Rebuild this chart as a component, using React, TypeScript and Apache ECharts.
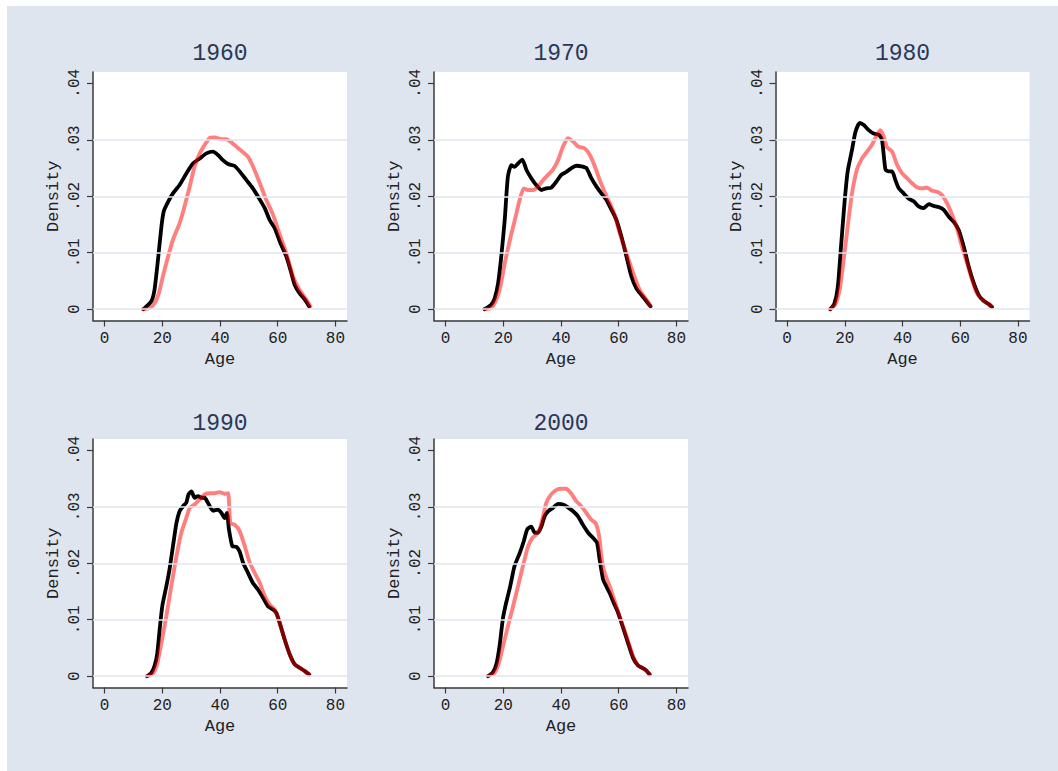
import React, { useEffect, useRef } from "react";
import * as echarts from "echarts";

const YEARS = ["1960", "1970", "1980", "1990", "2000"];
const AGE_TICKS = [0, 20, 40, 60, 80];
const DENSITY_TICKS = [0, 0.01, 0.02, 0.03, 0.04];
const GRID_VALUES = [0, 0.01, 0.02, 0.03];

// [age, density] pairs
const black1960 = [
  [13.5, 0], [16.2, 0.0014], [17.3, 0.0034], [18.5, 0.0087], [19.7, 0.0146], [20.5, 0.0173],
  [22, 0.019], [23.7, 0.0205], [26, 0.022], [28.3, 0.024], [30.6, 0.0258], [33, 0.0267],
  [35.3, 0.0276], [37.6, 0.0279], [39.3, 0.0273], [41, 0.0264], [42.8, 0.0257], [45, 0.0254],
  [46.8, 0.0244], [49.1, 0.0229], [51.4, 0.0214], [53.8, 0.0194], [55.5, 0.0179], [57.2, 0.0158],
  [59, 0.0143], [60.7, 0.012], [63, 0.0093], [64.7, 0.0064], [65.9, 0.0043], [67.6, 0.0028],
  [69.4, 0.0017], [70.9, 0.0005],
];
const red1960 = [
  [13.3, 0], [15.6, 0.0002], [17.3, 0.001], [18.8, 0.0028], [20.2, 0.0058], [22, 0.0093],
  [23.7, 0.0123], [26, 0.0152], [27.7, 0.0182], [29.5, 0.0217], [31.2, 0.0253], [33, 0.0276],
  [34.7, 0.0291], [36.4, 0.0303], [38.2, 0.0304], [40.5, 0.0301], [42.2, 0.0301], [44.5, 0.0293],
  [46.8, 0.0283], [49.7, 0.027], [51.4, 0.0253], [53.8, 0.0223], [56, 0.0194], [58.4, 0.0167],
  [60.7, 0.0132], [63, 0.0099], [65.3, 0.0058], [67.6, 0.0034], [69.9, 0.0017], [71.3, 0.0005],
];
const black1970 = [
  [13.5, 0], [15.8, 0.0008], [17, 0.0019], [18.2, 0.0046], [19.3, 0.0093], [20.5, 0.0158],
  [21.6, 0.0235], [22.8, 0.0255], [23.9, 0.0252], [25.1, 0.0258], [26.6, 0.0265], [28, 0.0247],
  [29.7, 0.0232], [31.4, 0.022], [33.2, 0.0211], [34.9, 0.0214], [36.6, 0.0215], [38.4, 0.0226],
  [40.1, 0.0238], [41.8, 0.0243], [43.6, 0.025], [45.3, 0.0254], [47.1, 0.0253], [48.8, 0.025],
  [50.5, 0.0232], [52.3, 0.0217], [54, 0.0205], [55.7, 0.0194], [57.5, 0.0176], [59.2, 0.0158],
  [60.9, 0.0129], [62.7, 0.0093], [64.4, 0.0058], [66.1, 0.0037], [67.9, 0.0025], [69.6, 0.0014],
  [71, 0.0005],
];
const red1970 = [
  [13.5, 0], [15.8, 0.0002], [17.6, 0.0017], [19, 0.004], [20.5, 0.0081], [22.3, 0.0123],
  [24, 0.0158], [25.7, 0.0194], [27.1, 0.0214], [28.6, 0.0211], [30.3, 0.0211], [32, 0.0217],
  [33.7, 0.0228], [35.5, 0.0238], [37.2, 0.0247], [39, 0.0264], [40.7, 0.0288], [42.4, 0.0303],
  [44.2, 0.0297], [45.9, 0.0288], [48.2, 0.0285], [50, 0.0273], [51.7, 0.0253], [53.4, 0.0229],
  [55.1, 0.0208], [56.9, 0.0188], [58.6, 0.0167], [60.3, 0.0135], [62.7, 0.0099], [65, 0.0064],
  [67.3, 0.0034], [69.6, 0.0017], [71, 0.0006],
];
const black1980 = [
  [15, 0], [16.4, 0.001], [17.6, 0.004], [18.7, 0.0111], [19.9, 0.0188], [21, 0.0244],
  [22.5, 0.0282], [23.7, 0.0314], [25.2, 0.033], [26.6, 0.0326], [28.3, 0.0317], [30, 0.0311],
  [31.8, 0.0309], [32.9, 0.03], [34.1, 0.0247], [35.2, 0.0244], [36.4, 0.0244], [37.5, 0.0229],
  [38.7, 0.0214], [40.4, 0.0205], [42.1, 0.0196], [43.9, 0.0191], [45.6, 0.0182], [47.3, 0.0179],
  [49.1, 0.0186], [50.8, 0.0183], [52.5, 0.0181], [54.3, 0.0176], [56, 0.0164], [57.7, 0.0155],
  [59.5, 0.014], [61.2, 0.0111], [62.9, 0.0076], [64.7, 0.0046], [66.4, 0.0025], [68.1, 0.0015],
  [69.9, 0.0009], [71, 0.0004],
];
const red1980 = [
  [14.8, 0], [16.7, 0.0008], [18.2, 0.0034], [19.6, 0.0087], [21, 0.0146], [22.5, 0.0205],
  [24.2, 0.0247], [26, 0.0267], [27.7, 0.0279], [29.4, 0.0291], [31.2, 0.0309], [32.3, 0.0317],
  [33.5, 0.0306], [34.6, 0.0287], [36.4, 0.0279], [38.1, 0.0256], [39.8, 0.0241], [41.6, 0.0232],
  [43.3, 0.0223], [45, 0.0216], [46.8, 0.0214], [48.5, 0.0215], [50.2, 0.021], [52, 0.0208],
  [53.7, 0.0202], [55.4, 0.0188], [57.2, 0.0167], [58.9, 0.0143], [60.6, 0.0111], [62.4, 0.0081],
  [64.1, 0.0052], [65.8, 0.0028], [68.1, 0.0015], [69.9, 0.0009], [71, 0.0004],
];
const black1990 = [
  [14.7, 0], [16.2, 0.0006], [17.3, 0.0018], [18.2, 0.0038], [19.1, 0.0083], [20, 0.0124],
  [21.4, 0.0159], [22.5, 0.0189], [23.7, 0.023], [24.9, 0.0271], [26, 0.0292], [27.2, 0.0301],
  [28.3, 0.0307], [29.1, 0.0322], [30.1, 0.0327], [31.2, 0.0316], [32.4, 0.0319], [33.5, 0.0316],
  [34.7, 0.0316], [35.8, 0.0307], [37.6, 0.0293], [39.3, 0.0295], [40.5, 0.0289], [41.6, 0.028],
  [42.4, 0.0289], [43.1, 0.026], [44.3, 0.023], [45.7, 0.0229], [46.8, 0.0221], [48, 0.0201],
  [49.7, 0.0183], [51.4, 0.0165], [53.2, 0.0153], [54.9, 0.0139], [56.6, 0.0124], [58.4, 0.0118],
  [59.5, 0.0112], [60.7, 0.0094], [62.4, 0.0065], [64.2, 0.0038], [65.9, 0.0021], [67.6, 0.0015],
  [69.4, 0.0009], [70.9, 0.0003],
];
const red1990 = [
  [14.7, 0], [16.8, 0.0005], [18.2, 0.0021], [19.7, 0.0059], [21.4, 0.0106], [23.1, 0.0159],
  [24.9, 0.0212], [26.6, 0.0254], [28.3, 0.028], [29.5, 0.0298], [31.2, 0.0304], [32.9, 0.0313],
  [34.7, 0.0322], [36.4, 0.0324], [38.2, 0.0324], [39.9, 0.0326], [41.6, 0.0323], [42.8, 0.0324],
  [43.6, 0.0271], [45.1, 0.0268], [46.8, 0.0257], [48.6, 0.023], [50.3, 0.0201], [52, 0.0183],
  [53.8, 0.0165], [55.5, 0.0142], [57.2, 0.0127], [59, 0.0118], [60.7, 0.0094], [62.4, 0.0065],
  [64.2, 0.0038], [65.9, 0.0021], [67.6, 0.0015], [69.4, 0.0009], [70.9, 0.0003],
];
const black2000 = [
  [14.7, 0], [16.4, 0.0007], [17.6, 0.0021], [18.7, 0.0053], [19.9, 0.0103], [21, 0.013],
  [22.4, 0.0159], [23.9, 0.0195], [25.7, 0.0218], [27.1, 0.0239], [28.3, 0.026], [29.7, 0.0265],
  [30.9, 0.0254], [32, 0.0254], [33.2, 0.0265], [34.3, 0.0283], [35.5, 0.0292], [37.2, 0.0298],
  [39, 0.0305], [40.7, 0.0304], [42.4, 0.0299], [44.2, 0.0292], [45.9, 0.0283], [47.6, 0.0268],
  [49.4, 0.0254], [51.1, 0.0245], [52.5, 0.0236], [53.4, 0.0206], [54.6, 0.0171], [55.7, 0.0159],
  [56.9, 0.0147], [58, 0.0133], [59.8, 0.0112], [61.5, 0.0086], [63.2, 0.0059], [65, 0.0032],
  [66.7, 0.0019], [68.4, 0.0014], [69.6, 0.001], [70.7, 0.0003],
];
const red2000 = [
  [14.7, 0], [17, 0.0006], [18.5, 0.0024], [19.9, 0.0053], [21.6, 0.0088], [23.4, 0.0124],
  [25.1, 0.0159], [26.8, 0.0195], [28.6, 0.023], [30.1, 0.0245], [31.4, 0.0251], [32.6, 0.026],
  [33.8, 0.0283], [34.9, 0.0307], [36.6, 0.0322], [38.4, 0.033], [40.1, 0.0332], [41.8, 0.0332],
  [43.6, 0.0323], [45.3, 0.031], [47, 0.0301], [48.8, 0.0289], [50.5, 0.0277], [52, 0.0271],
  [53.2, 0.0248], [54, 0.0212], [55.1, 0.0183], [56.9, 0.0159], [58.6, 0.0133], [60.3, 0.0106],
  [62.7, 0.0071], [65, 0.0035], [66.7, 0.0019], [68.4, 0.0014], [69.6, 0.001], [70.7, 0.0003],
];

const BLACK_SERIES = [black1960, black1970, black1980, black1990, black2000];
const RED_SERIES = [red1960, red1970, red1980, red1990, red2000];

const BG = "#dfe5ef";
const GRIDLINE = "#dfe5ef";
const AXIS = "#3a3a3a";
const FONT = "'Liberation Mono', 'DejaVu Sans Mono', monospace";

const PANEL_LEFT = [93, 434, 775.5, 93, 434];
const PANEL_TOP = [72, 72, 72, 439, 439];
const TITLE_TOP = [42, 42, 42, 412, 412];
const PANEL_W = 254;
const PANEL_H = 248.5;

function fmtDensity(v: number) {
  if (Math.abs(v) < 1e-9) return "0";
  return String(Math.round(v * 100) / 100).replace(/^0/, "");
}

export default function App() {
  const ref = useRef<HTMLDivElement>(null);
  useEffect(() => {
    if (!ref.current) return;
    const chart = echarts.init(ref.current, undefined, { renderer: "svg" });
    const grids: any[] = [];
    const xAxes: any[] = [];
    const yAxes: any[] = [];
    const series: any[] = [];
    const titles: any[] = [];
    YEARS.forEach((yr, i) => {
      grids.push({
        left: PANEL_LEFT[i],
        top: PANEL_TOP[i],
        width: PANEL_W,
        height: PANEL_H,
        show: true,
        backgroundColor: "#ffffff",
        borderWidth: 0,
      });
      titles.push({
        text: yr,
        left: PANEL_LEFT[i] + PANEL_W / 2,
        top: TITLE_TOP[i],
        padding: 0,
        textAlign: "center",
        textStyle: { fontFamily: FONT, fontSize: 23, fontWeight: "normal", color: "#2a3858" },
      });
      xAxes.push({
        type: "value",
        gridIndex: i,
        min: -4,
        max: 84,
        name: "Age",
        nameLocation: "middle",
        nameGap: 30,
        nameTextStyle: { fontFamily: FONT, fontSize: 17, color: "#222" },
        axisLine: { show: true, onZero: false, lineStyle: { color: AXIS, width: 1.5 } },
        axisTick: { show: true, length: 6, customValues: AGE_TICKS, lineStyle: { color: AXIS, width: 1.2 } },
        axisLabel: { customValues: AGE_TICKS, margin: 10, fontFamily: FONT, fontSize: 16, color: "#222" },
        splitLine: { show: false },
      });
      yAxes.push({
        type: "value",
        gridIndex: i,
        min: -0.002,
        max: 0.042,
        name: "Density",
        nameLocation: "middle",
        nameGap: 31,
        nameRotate: 90,
        nameTextStyle: { fontFamily: FONT, fontSize: 17, color: "#222" },
        axisLine: { show: true, onZero: false, lineStyle: { color: AXIS, width: 1.5 } },
        axisTick: { show: true, length: 6, customValues: DENSITY_TICKS, lineStyle: { color: AXIS, width: 1.2 } },
        axisLabel: {
          customValues: DENSITY_TICKS,
          rotate: 90,
          margin: 10,
          fontFamily: FONT,
          fontSize: 16,
          color: "#222",
          formatter: (v: number) => fmtDensity(v),
        },
        splitLine: { show: false },
      });
      series.push({
        type: "line",
        xAxisIndex: i,
        yAxisIndex: i,
        data: [],
        z: 1,
        silent: true,
        markLine: {
          silent: true,
          symbol: ["none", "none"],
          label: { show: false },
          animation: false,
          lineStyle: { color: GRIDLINE, width: 1.5, type: "solid" },
          emphasis: { disabled: true },
          data: GRID_VALUES.map((v) => ({ yAxis: v })),
        },
      });
      series.push({
        type: "line",
        name: "black" + yr,
        xAxisIndex: i,
        yAxisIndex: i,
        data: BLACK_SERIES[i],
        showSymbol: false,
        smooth: 0.2,
        z: 2,
        lineStyle: { color: "#000000", width: 3.8, cap: "round", join: "round" },
      });
      series.push({
        type: "line",
        name: "red" + yr,
        xAxisIndex: i,
        yAxisIndex: i,
        data: RED_SERIES[i],
        showSymbol: false,
        smooth: 0.2,
        z: 3,
        lineStyle: { color: "#ff0000", width: 3.9, opacity: 0.5, cap: "round", join: "round" },
      });
    });
    chart.setOption({
      animation: false,
      backgroundColor: BG,
      title: titles,
      grid: grids,
      xAxis: xAxes,
      yAxis: yAxes,
      series,
      graphic: [
        { type: "rect", shape: { x: 0, y: 0, width: 1058, height: 6 }, style: { fill: "#ffffff" }, silent: true },
        { type: "rect", shape: { x: 0, y: 0, width: 7, height: 771 }, style: { fill: "#ffffff" }, silent: true },
      ],
    });
    return () => chart.dispose();
  }, []);
  return (
    <div
      ref={ref}
      style={{ position: "absolute", left: 0, top: 0, width: 1058, height: 771 }}
    />
  );
}
